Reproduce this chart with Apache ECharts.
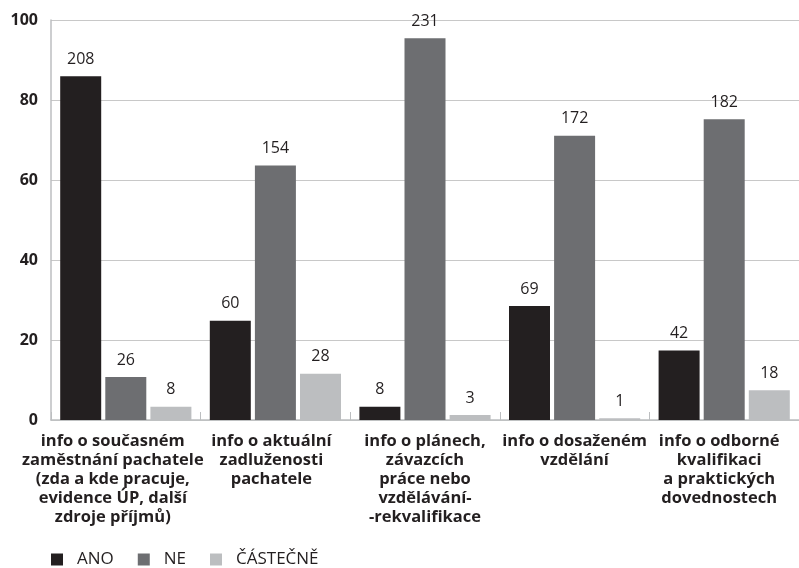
<!DOCTYPE html>
<html>
<head>
<meta charset="utf-8">
<script src="https://cdn.jsdelivr.net/npm/echarts@6/dist/echarts.min.js"></script>
<style>
  html, body { margin: 0; padding: 0; background: #fff; }
  #chart { width: 799px; height: 568px; }
</style>
</head>
<body>
<div id="chart"></div>
<script>
// Question categories (x axis)
const categories = [
  'info o současném\nzaměstnání pachatele\n(zda a kde pracuje,\nevidence ÚP, další\nzdroje příjmů)',
  'info o aktuální\nzadluženosti\npachatele',
  'info o plánech,\nzávazcích\npráce nebo\nvzdělávání-\n-rekvalifikace',
  'info o dosaženém\nvzdělání',
  'info o odborné\nkvalifikaci\na praktických\ndovednostech'
];

// Number of answers per category
const ano = [208, 60, 8, 69, 42];
const ne = [26, 154, 231, 172, 182];
const castecne = [8, 28, 3, 1, 18];

// Respondents in total (bar height = share in %)
const total = 242;

const yTicks = [0, 20, 40, 60, 80, 100];

const seriesNames = ['ANO', 'NE', 'ČÁSTEČNĚ'];
const seriesColors = ['#231f20', '#6d6e71', '#bcbec0'];

const FONT = 'Open Sans';

// Right padding nudges the long first label a little to the left
const labelPadRight = [26, 8, 0, 0, 10];

function makeSeries(name, counts, color) {
  return {
    name: name,
    type: 'bar',
    barWidth: 41,
    barGap: '10%',
    itemStyle: { color: color },
    data: counts.map(c => c / total * 100),
    label: {
      show: true,
      position: 'top',
      distance: 9,
      fontFamily: FONT,
      fontSize: 16,
      color: '#231f20',
      formatter: p => String(counts[p.dataIndex])
    }
  };
}

const chart = echarts.init(document.getElementById('chart'), null, { renderer: 'canvas' });
chart.setOption({
  animation: false,
  backgroundColor: '#ffffff',
  textStyle: { fontFamily: FONT },
  grid: { left: 51, right: -2, top: 20, bottom: 148, containLabel: false },
  legend: {
    left: 51,
    top: 551,
    padding: 0,
    itemWidth: 12,
    itemHeight: 12,
    itemGap: 24,
    icon: 'rect',
    textStyle: { fontFamily: FONT, fontSize: 17, color: '#231f20', padding: [0, 0, 0, 9] },
    data: seriesNames
  },
  xAxis: {
    type: 'category',
    data: categories.map((c, i) => ({
      value: c,
      textStyle: { padding: [0, labelPadRight[i], 0, 0] }
    })),
    axisLine: { show: true, lineStyle: { color: '#bcbec0', width: 1.5 } },
    axisTick: { show: true, inside: true, length: 8, lineStyle: { color: '#bcbec0' } },
    axisLabel: {
      interval: 0,
      margin: 12,
      fontFamily: FONT,
      fontWeight: 'bold',
      fontSize: 16.5,
      lineHeight: 19,
      color: '#231f20',
      align: 'center'
    }
  },
  yAxis: {
    type: 'value',
    min: yTicks[0],
    max: yTicks[yTicks.length - 1],
    interval: 20,
    axisLine: { show: true, lineStyle: { color: '#bcbec0', width: 1.5 } },
    axisTick: { show: false },
    splitLine: { show: true, lineStyle: { color: '#c8c8c8', width: 1 } },
    axisLabel: {
      margin: 13,
      fontFamily: FONT,
      fontWeight: 'bold',
      fontSize: 16,
      color: '#231f20'
    }
  },
  series: [
    makeSeries(seriesNames[0], ano, seriesColors[0]),
    makeSeries(seriesNames[1], ne, seriesColors[1]),
    makeSeries(seriesNames[2], castecne, seriesColors[2])
  ]
});
</script>
</body>
</html>
